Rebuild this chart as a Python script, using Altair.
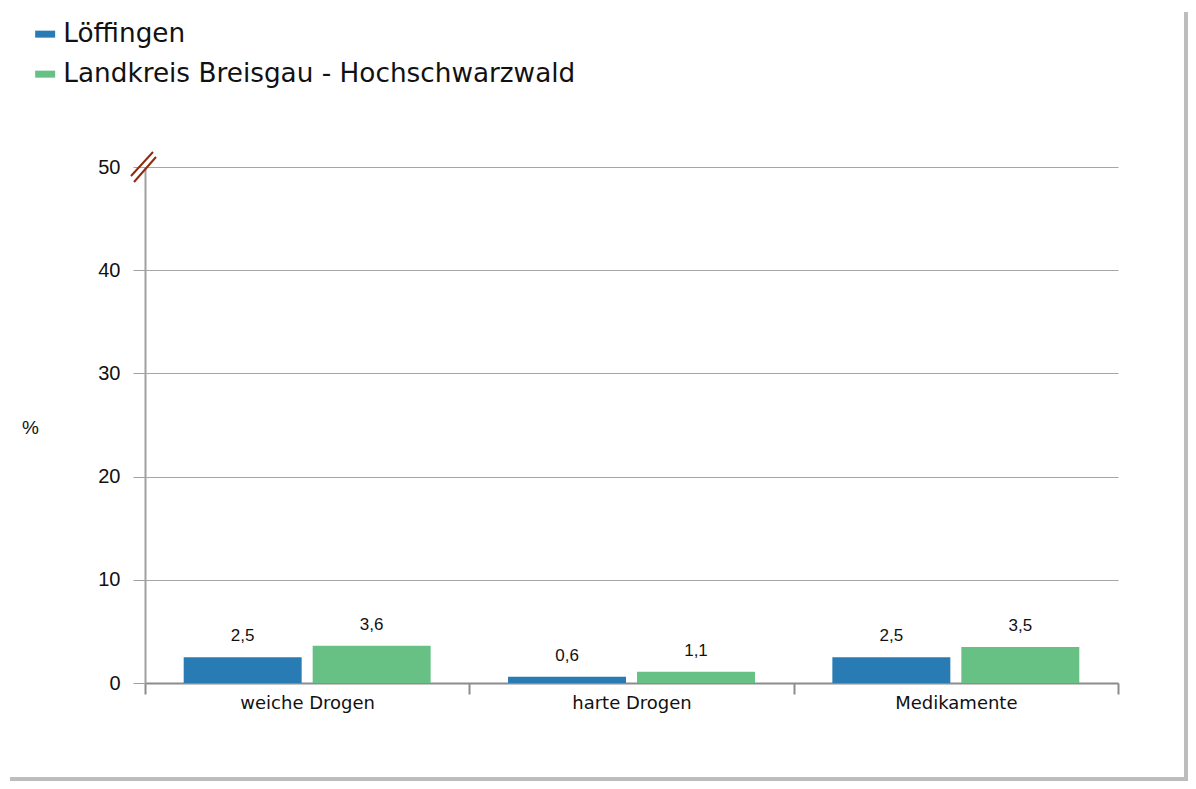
import altair as alt
import pandas as pd

categories = ["weiche Drogen", "harte Drogen", "Medikamente"]
series = ["Löffingen", "Landkreis Breisgau - Hochschwarzwald"]
loeffingen = [2.5, 0.6, 2.5]
landkreis = [3.6, 1.1, 3.5]
colors = ["#287CB3", "#67C185"]
y_ticks = [0, 10, 20, 30, 40, 50]

rows = []
for c, a, b in zip(categories, loeffingen, landkreis):
    rows.append({"cat": c, "series": series[0], "value": a, "label": f"{a:.1f}".replace(".", ",")})
    rows.append({"cat": c, "series": series[1], "value": b, "label": f"{b:.1f}".replace(".", ",")})
df = pd.DataFrame(rows)

x_enc = alt.X("cat:N", sort=categories, title=None,
              scale=alt.Scale(paddingInner=0, paddingOuter=0),
              axis=alt.Axis(labelAngle=0, tickBand="extent", tickSize=11, labelPadding=0,
                            labelFont="DejaVu Sans", labelFontSize=18, labelColor="#111111",
                            domainColor="#8c8c8c", tickColor="#8c8c8c", domainWidth=2, tickWidth=2,
                            grid=False))
xo_enc = alt.XOffset("series:N", sort=series,
                     scale=alt.Scale(paddingInner=11 / 129, paddingOuter=0.3))
y_enc = alt.Y("value:Q", title="%",
              scale=alt.Scale(domain=[0, 50], nice=False),
              axis=alt.Axis(values=y_ticks, tickSize=12, labelPadding=13,
                            labelFont="Liberation Sans", labelFontSize=20, labelColor="#111111",
                            domainColor="#a0a0a0", tickColor="#a0a0a0", domainWidth=2,
                            gridColor="#a6a6a6", gridWidth=1.2,
                            titleAngle=0, titleX=-115, titleY=260, titleAlign="center",
                            titleBaseline="middle", titleFont="Liberation Sans",
                            titleFontSize=19, titleFontWeight="normal", titleColor="#111111"))

bars = alt.Chart(df).mark_bar().encode(
    x=x_enc, xOffset=xo_enc, y=y_enc,
    color=alt.Color("series:N", sort=series,
                    scale=alt.Scale(domain=series, range=colors),
                    legend=alt.Legend(title=None, orient="none", legendX=-113, legendY=-146,
                                      symbolType="M-1,-0.35H1V0.35H-1Z", symbolSize=400,
                                      symbolStrokeWidth=0, labelFont="DejaVu Sans",
                                      labelFontSize=26.3, labelColor="#111111", labelOffset=5,
                                      rowPadding=13, padding=0, labelLimit=800)),
)

labels = alt.Chart(df).mark_text(font="Liberation Sans", fontSize=17, dy=-16,
                                 baseline="alphabetic", color="#111111").encode(
    x=alt.X("cat:N", sort=categories), xOffset=alt.XOffset("series:N", sort=series),
    y="value:Q", text="label:N")

deco = pd.DataFrame({"d": [0]})
break1 = alt.Chart(deco).mark_rule(color="#8E2A10", strokeWidth=2).encode(
    x=alt.value(-14), y=alt.value(9), x2=alt.value(8), y2=alt.value(-15))
break2 = alt.Chart(deco).mark_rule(color="#8E2A10", strokeWidth=2).encode(
    x=alt.value(-11), y=alt.value(15), x2=alt.value(11), y2=alt.value(-10))
shadow_r = alt.Chart(deco).mark_rect(color="#bdbdbd").encode(
    x=alt.value(1039), x2=alt.value(1043), y=alt.value(-155), y2=alt.value(614))
shadow_b = alt.Chart(deco).mark_rect(color="#bdbdbd").encode(
    x=alt.value(-135), x2=alt.value(1043), y=alt.value(610), y2=alt.value(614))

chart = alt.layer(bars, labels, break1, break2, shadow_r, shadow_b).properties(
    width=973, height=516,
    background="white",
    autosize=alt.AutoSizeParams(type="none"),
    padding={"left": 137, "top": 159, "right": 70, "bottom": 98},
).configure_view(stroke=None, strokeWidth=0)

chart.save("out.html", embed_options={"renderer": "svg", "actions": False})
